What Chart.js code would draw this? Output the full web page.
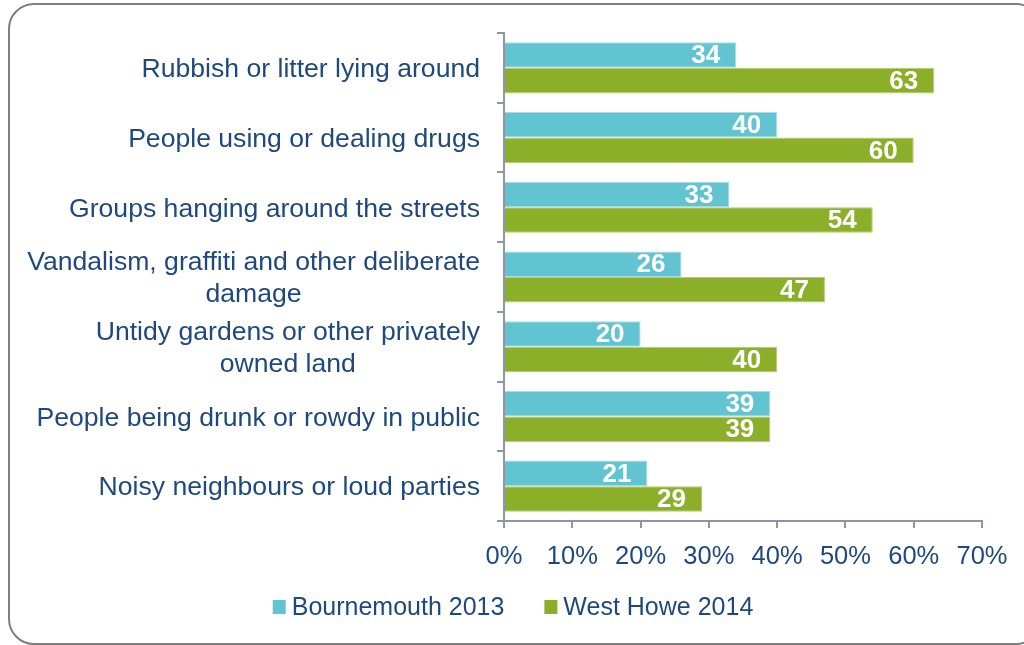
<!DOCTYPE html>
<html>
<head>
<meta charset="utf-8">
<title>Local problems</title>
<script src="https://cdn.jsdelivr.net/npm/chart.js@4.4.1/dist/chart.umd.min.js"></script>
<style>
    html, body { margin: 0; padding: 0; background: #fff; overflow: hidden; }
    #wrap { position: relative; width: 1024px; height: 645px; }
    #frame {
        position: absolute; left: 8px; top: 3px; width: 1030px; height: 638px;
        border: 2px solid #7f7f7f; border-radius: 26px;
    }
    #chart { position: absolute; left: 0; top: 0; }
</style>
</head>
<body>
<div id="wrap">
    <div id="frame"></div>
    <canvas id="chart" width="1024" height="645"></canvas>
</div>
<script>
// === Data ===
const categories = [
    'Rubbish or litter lying around',
    'People using or dealing drugs',
    'Groups hanging around the streets',
    ['Vandalism, graffiti and other deliberate', 'damage'],
    ['Untidy gardens or other privately', 'owned land'],
    'People being drunk or rowdy in public',
    'Noisy neighbours or loud parties'
];
const bournemouth2013 = [34, 40, 33, 26, 20, 39, 21];
const westHowe2014 = [63, 60, 54, 47, 40, 39, 29];
const seriesNames = ['Bournemouth 2013', 'West Howe 2014'];
const xTicks = [0, 10, 20, 30, 40, 50, 60, 70];

// === Styles ===
const FONT = '"Liberation Sans", Arial, sans-serif';
const TEXT_BLUE = '#1F497D';
const AXIS_GREY = '#8C96A6';
const CYAN = '#62C3D1';
const GREEN = '#8BAF28';

// Category labels: block right-aligned to the axis, lines centred inside the block
const categoryLabels = {
    id: 'categoryLabels',
    afterDraw(chart) {
        const ctx = chart.ctx;
        const y = chart.scales.y;
        const rightEdge = chart.chartArea.left - 24;
        const lineH = 32;
        ctx.save();
        ctx.font = '26.6px ' + FONT;
        ctx.fillStyle = TEXT_BLUE;
        ctx.textAlign = 'center';
        ctx.textBaseline = 'middle';
        chart.data.labels.forEach((label, i) => {
            const lines = Array.isArray(label) ? label : [label];
            const widest = Math.max(...lines.map(l => ctx.measureText(l).width));
            const cx = rightEdge - widest / 2;
            const cy = y.getPixelForTick(i) + 2;
            lines.forEach((line, j) => {
                ctx.fillText(line, cx, cy + (j - (lines.length - 1) / 2) * lineH);
            });
        });
        ctx.restore();
    }
};

// White value labels inside the end of each bar
const valueLabels = {
    id: 'valueLabels',
    afterDatasetsDraw(chart) {
        const ctx = chart.ctx;
        ctx.save();
        ctx.font = 'bold 26px ' + FONT;
        ctx.fillStyle = '#ffffff';
        ctx.textAlign = 'right';
        ctx.textBaseline = 'middle';
        chart.data.datasets.forEach((ds, di) => {
            chart.getDatasetMeta(di).data.forEach((bar, i) => {
                ctx.fillText(String(ds.data[i]), bar.x - 16, bar.y + 1);
            });
        });
        ctx.restore();
    }
};

// Legend row under the axis: small square, short gap, series name
const legendRow = {
    id: 'legendRow',
    afterDraw(chart) {
        const ctx = chart.ctx;
        const box = 13, gap = 6, itemGap = 40, cy = 608;
        ctx.save();
        ctx.font = '25px ' + FONT;
        ctx.textBaseline = 'middle';
        ctx.textAlign = 'left';
        const items = chart.data.datasets.map(ds => ({
            name: ds.label, color: ds.backgroundColor, w: ctx.measureText(ds.label).width
        }));
        const total = items.reduce((s, it) => s + box + gap + it.w, 0) + itemGap * (items.length - 1);
        let x = chart.width / 2 + 1 - total / 2;
        items.forEach(it => {
            ctx.fillStyle = it.color;
            ctx.fillRect(x, cy - 8, box, box + 1);
            ctx.fillStyle = TEXT_BLUE;
            ctx.fillText(it.name, x + box + gap, cy);
            x += box + gap + it.w + itemGap;
        });
        ctx.restore();
    }
};

new Chart(document.getElementById('chart'), {
    type: 'bar',
    data: {
        labels: categories,
        datasets: [{
            label: seriesNames[0],
            data: bournemouth2013,
            backgroundColor: CYAN,
            borderColor: '#A9DCE4',
            borderWidth: 1,
            categoryPercentage: 0.733,
            barPercentage: 1
        }, {
            label: seriesNames[1],
            data: westHowe2014,
            backgroundColor: GREEN,
            borderColor: '#B4CC74',
            borderWidth: 1,
            categoryPercentage: 0.733,
            barPercentage: 1
        }]
    },
    options: {
        indexAxis: 'y',
        responsive: false,
        animation: false,
        layout: { padding: { top: 33, right: 42, bottom: 62, left: 0 } },
        scales: {
            x: {
                min: 0,
                max: 70,
                afterBuildTicks: s => { s.ticks = xTicks.map(v => ({ value: v })); },
                grid: { drawOnChartArea: false, color: AXIS_GREY, lineWidth: 2, tickLength: 7 },
                border: { color: AXIS_GREY, width: 2 },
                ticks: {
                    color: TEXT_BLUE,
                    font: { family: FONT, size: 25.5 },
                    padding: 14,
                    callback: v => v + '%'
                },
                afterFit: s => { s.height = 62; }
            },
            y: {
                grid: { drawOnChartArea: false, color: AXIS_GREY, lineWidth: 2, tickLength: 7 },
                border: { color: AXIS_GREY, width: 2 },
                ticks: { display: false },
                afterFit: s => { s.width = 504; }
            }
        },
        plugins: {
            legend: { display: false },
            tooltip: { enabled: false }
        }
    },
    plugins: [categoryLabels, valueLabels, legendRow]
});
</script>
</body>
</html>
